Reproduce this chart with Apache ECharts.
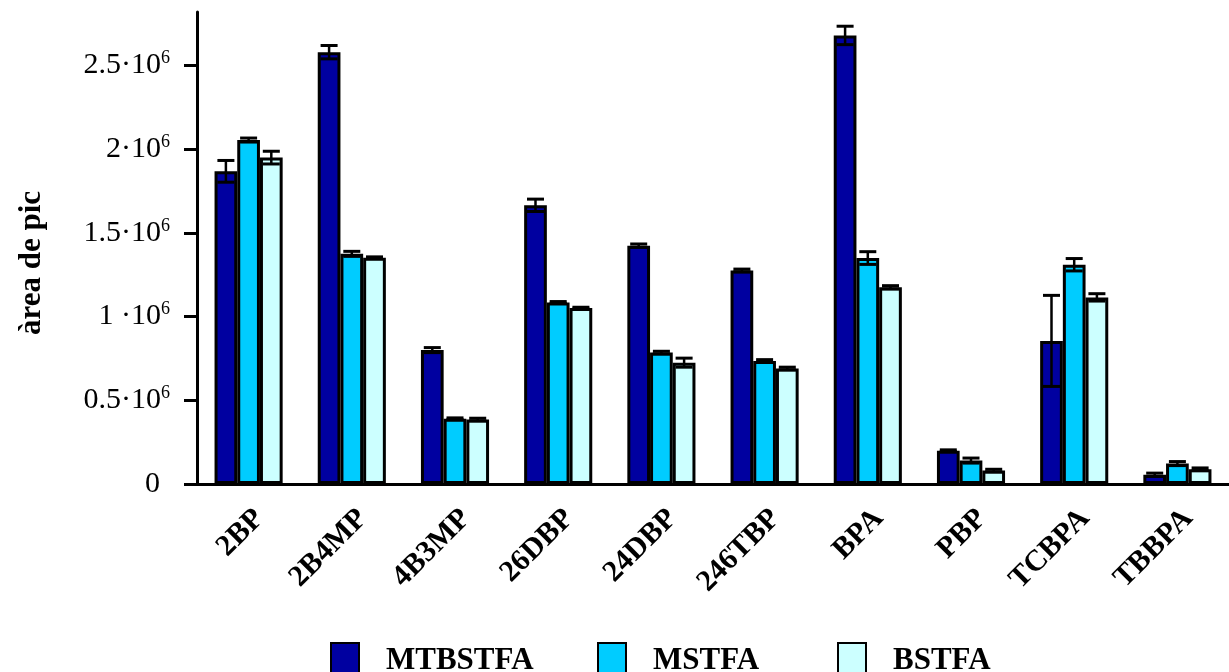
<!DOCTYPE html>
<html>
<head>
<meta charset="utf-8">
<script src="https://cdn.jsdelivr.net/npm/echarts@6/dist/echarts.min.js"></script>
<style>
  html, body { margin: 0; padding: 0; background: #fff; }
  #chart { width: 1229px; height: 672px; }
</style>
</head>
<body>
<div id="chart"></div>
<script>
// 化合物
const categories = ["2BP", "2B4MP", "4B3MP", "26DBP", "24DBP", "246TBP", "BPA", "PBP", "TCBPA", "TBBPA"];

// àrea de pic per reactiu
const mtbstfa = [1868000, 2580000, 800000, 1665000, 1424000, 1276000, 2680000, 199000, 855000, 55000];
const mtbstfaErr = [65000, 40000, 15000, 37000, 10000, 8000, 55000, 5000, 272000, 10000];
const mstfa = [2055000, 1375000, 390000, 1085000, 785000, 735000, 1350000, 140000, 1310000, 122000];
const mstfaErr = [12000, 15000, 5000, 5000, 8000, 8000, 38000, 15000, 37000, 12000];
const bstfa = [1950000, 1352000, 385000, 1051000, 725000, 690000, 1175000, 80000, 1115000, 88000];
const bstfaErr = [38000, 5000, 8000, 5000, 27000, 8000, 10000, 8000, 22000, 8000];

// eix y
const yTicks = [0, 500000, 1000000, 1500000, 2000000, 2500000];
const yTickLabels = ["0", "0.5·10", "1 ·10", "1.5·10", "2·10", "2.5·10"];

const seriesNames = ["MTBSTFA", "MSTFA", "BSTFA"];
const colors = ["#0000a0", "#00ccff", "#ccffff"];
const FONT = "Liberation Serif";

const chart = echarts.init(document.getElementById("chart"));

// barres d'error (I) sobre cada barra
const errorSeries = (values, errs, k) => ({
  type: "custom",
  z: 5,
  data: values.map((v, i) => [i, v, errs[i]]),
  encode: { x: 0, y: 1 },
  renderItem: (params, api) => {
    const i = api.value(0);
    const v = api.value(1);
    const e = api.value(2);
    const band = api.size([1, 0])[0];
    const barW = band * 0.22;
    const x = api.coord([i, v])[0] + (k - 1) * barW;
    const yHi = api.coord([i, v + e])[1];
    const yLo = api.coord([i, v - e])[1];
    const half = 8.5;
    const style = { stroke: "#000", lineWidth: 3 };
    return {
      type: "group",
      children: [
        { type: "line", shape: { x1: x, y1: yHi, x2: x, y2: yLo }, style: { stroke: "#000", lineWidth: 2.5 } },
        { type: "line", shape: { x1: x - half, y1: yHi, x2: x + half, y2: yHi }, style },
        { type: "line", shape: { x1: x - half, y1: yLo, x2: x + half, y2: yLo }, style },
      ],
    };
  },
});

const barSeries = (name, values, color) => ({
  name,
  type: "bar",
  data: values,
  barGap: "0%",
  barCategoryGap: "34%",
  itemStyle: { color, borderColor: "#000", borderWidth: 3 },
});

const legendAt = (name, left) => ({
  data: [name],
  left,
  top: 642,
  padding: 0,
  icon: "rect",
  itemWidth: 28,
  itemHeight: 36,
  selectedMode: false,
  textStyle: {
    fontFamily: FONT,
    fontWeight: "bold",
    fontSize: 31,
    color: "#000",
    padding: [0, 0, 0, 22],
  },
});

chart.setOption({
  animation: false,
  backgroundColor: "#fff",
  grid: { left: 197, right: -7, top: 12, bottom: 188 },
  legend: [
    legendAt(seriesNames[0], 330),
    legendAt(seriesNames[1], 597),
    legendAt(seriesNames[2], 837),
  ],
  xAxis: {
    type: "category",
    data: categories,
    axisLine: { lineStyle: { color: "#000", width: 3 } },
    axisTick: { length: 10, lineStyle: { color: "#000", width: 3 } },
    axisLabel: {
      rotate: 45,
      margin: 19,
      interval: 0,
      align: "right",
      verticalAlign: "middle",
      formatter: (v) => "{c|" + v + "}",
      rich: {
        c: {
          fontFamily: FONT,
          fontWeight: "bold",
          fontSize: 30,
          color: "#000",
          padding: [31, 0, 0, 0],
        },
      },
    },
  },
  yAxis: {
    type: "value",
    min: 0,
    max: 2820000,
    interval: 500000,
    splitLine: { show: false },
    name: "àrea de pic",
    nameLocation: "middle",
    nameRotate: 90,
    nameGap: 150,
    nameTextStyle: {
      fontFamily: FONT,
      fontWeight: "bold",
      fontSize: 31,
      color: "#000",
      padding: [0, 30, 0, 0],
    },
    axisLine: { show: true, lineStyle: { color: "#000", width: 3 } },
    axisTick: {
      show: true,
      length: 13,
      customValues: yTicks,
      lineStyle: { color: "#000", width: 3 },
    },
    axisLabel: {
      margin: 27,
      customValues: yTicks,
      formatter: (val) => {
        const idx = yTicks.indexOf(val);
        if (idx < 0) return "";
        if (val === 0) return "{z|" + yTickLabels[idx] + "}";
        return "{n|" + yTickLabels[idx] + "}{s|6}";
      },
      rich: {
        n: { fontFamily: FONT, fontSize: 30, color: "#000", lineHeight: 32 },
        z: { fontFamily: FONT, fontSize: 30, color: "#000", lineHeight: 32, padding: [0, 10, 0, 0] },
        s: { fontFamily: FONT, fontSize: 18, color: "#000", verticalAlign: "top", lineHeight: 20 },
      },
    },
  },
  series: [
    barSeries(seriesNames[0], mtbstfa, colors[0]),
    barSeries(seriesNames[1], mstfa, colors[1]),
    barSeries(seriesNames[2], bstfa, colors[2]),
    errorSeries(mtbstfa, mtbstfaErr, 0),
    errorSeries(mstfa, mstfaErr, 1),
    errorSeries(bstfa, bstfaErr, 2),
  ],
});
</script>
</body>
</html>
